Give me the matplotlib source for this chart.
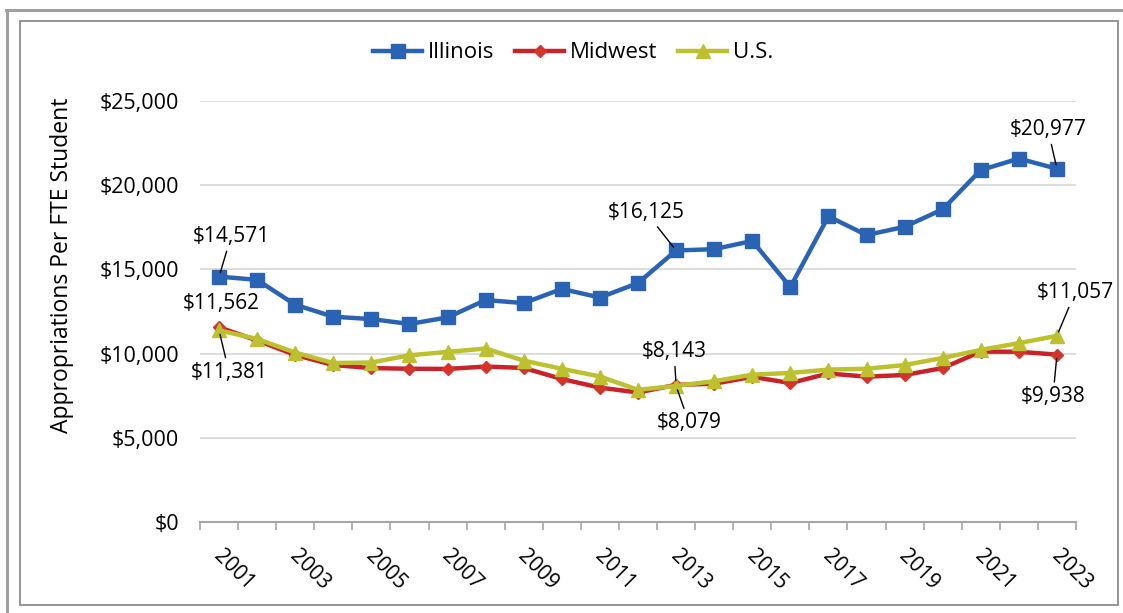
import matplotlib
matplotlib.use("Agg")
import matplotlib.pyplot as plt
import matplotlib.transforms as mtransforms
from matplotlib.lines import Line2D
from matplotlib.patches import Rectangle
from matplotlib.ticker import FuncFormatter, FixedLocator

years = list(range(2001, 2024))
illinois = [14571, 14380, 12900, 12190, 12050, 11760, 12150, 13180, 13000, 13840,
            13330, 14190, 16125, 16200, 16690, 13950, 18150, 17040, 17530, 18570,
            20900, 21580, 20977]
midwest = [11562, 10780, 9920, 9320, 9140, 9100, 9090, 9230, 9150, 8490,
           7980, 7690, 8143, 8210, 8620, 8250, 8820, 8630, 8730, 9140,
           10120, 10110, 9938]
us = [11381, 10870, 10060, 9440, 9470, 9900, 10100, 10300, 9580, 9100,
      8640, 7850, 8079, 8360, 8750, 8850, 9050, 9100, 9320, 9740,
      10220, 10620, 11057]
tick_years = years[::2]

plt.rcParams['font.family'] = ['Open Sans', 'DejaVu Sans']

W, H = 1123, 613
fig = plt.figure(figsize=(W / 100, H / 100), dpi=100)
ax = fig.add_axes([200 / W, 1 - 522 / H, (1076 - 200) / W, (522 - 101) / H])

c_il, c_mw, c_us = '#2B63B4', '#C8232B', '#BDC02F'
x = list(range(len(years)))
ax.plot(x, illinois, color=c_il, lw=3.2, marker='s', ms=9.5, mfc=c_il, mec=c_il, zorder=3, label='Illinois')
ax.plot(x, midwest, color=c_mw, lw=3.2, marker='D', ms=6.5, mfc='#D2362B', mec='#D2362B', zorder=4, label='Midwest')
ax.plot(x, us, color=c_us, lw=3.2, marker='^', ms=9.5, mfc=c_us, mec=c_us, zorder=5, label='U.S.')

ax.set_ylim(0, 25000)
ax.set_xlim(-0.5, len(years) - 0.5)
ax.set_yticks(range(0, 25001, 5000))
ax.yaxis.set_major_formatter(FuncFormatter(lambda v, p: f"${int(v):,}"))
ax.tick_params(axis='y', length=0, labelsize=15.5, pad=15)
for v in range(5000, 25001, 5000):
    ax.axhline(v, color='#D9D9D9', lw=1.3, zorder=1)

ax.xaxis.set_major_locator(FixedLocator([years.index(y) for y in tick_years]))
ax.set_xticklabels([str(y) for y in tick_years])
ax.xaxis.set_minor_locator(FixedLocator([i - 0.5 for i in range(len(years) + 1)]))
ax.tick_params(axis='x', which='major', length=0, labelsize=15, pad=17, labelrotation=-45)
ax.tick_params(axis='x', which='minor', length=6, color='#A6A6A6', width=1.2)
shift = mtransforms.ScaledTranslation(5 / 100, 0, fig.dpi_scale_trans)
for lbl in ax.get_xticklabels():
    lbl.set_ha('left')
    lbl.set_va('top')
    lbl.set_rotation_mode('anchor')
    lbl.set_transform(lbl.get_transform() + shift)

for s in ['left', 'right', 'top']:
    ax.spines[s].set_visible(False)
ax.spines['bottom'].set_color('#A6A6A6')
ax.spines['bottom'].set_linewidth(1.5)

fig.text(62 / W, 1 - 265 / H, 'Appropriations Per FTE Student', rotation=90,
         ha='center', va='center', fontsize=16.5)

def ann(series, i, label, dx, dy, line=True):
    kw = dict(textcoords='offset pixels', ha='center', va='center', fontsize=15, zorder=6)
    if line:
        kw['arrowprops'] = dict(arrowstyle='-', color='black', lw=1, shrinkA=1, shrinkB=3)
    ax.annotate(label, xy=(i, series[i]), xytext=(dx, dy), **kw)

last = len(years) - 1
i13 = years.index(2013)
ann(illinois, 0, '$14,571', 12, 40)
ann(midwest, 0, '$11,562', 2, 24, line=False)
ann(us, 0, '$11,381', 10, -42)
ann(illinois, i13, '$16,125', -30, 38)
ann(midwest, i13, '$8,143', -2, 33)
ann(us, i13, '$8,079', 13, -37)
ann(illinois, last, '$20,977', -9, 39)
ann(us, last, '$11,057', 18, 43)
ann(midwest, last, '$9,938', -4, -42)

handles, labels = ax.get_legend_handles_labels()
fig.legend(handles, labels, loc='center', bbox_to_anchor=(573 / W, 1 - 53 / H), ncol=3,
           frameon=False, fontsize=16, handlelength=2.2, columnspacing=0.95, handletextpad=0.25)

# frames
fig.add_artist(Line2D([6 / W, 1], [1 - 9.5 / H] * 2, transform=fig.transFigure, color='#A0A0A0', lw=2.2))
fig.add_artist(Line2D([6.5 / W] * 2, [0, 1 - 9.5 / H], transform=fig.transFigure, color='#A0A0A0', lw=2.2))
fig.add_artist(Rectangle((19.5 / W, 1 - 605 / H), (1118 - 19.5) / W, (605 - 20.5) / H,
                         transform=fig.transFigure, fill=False, ec='#8C8C8C', lw=1.3))

fig.savefig('out.png', dpi=100)
